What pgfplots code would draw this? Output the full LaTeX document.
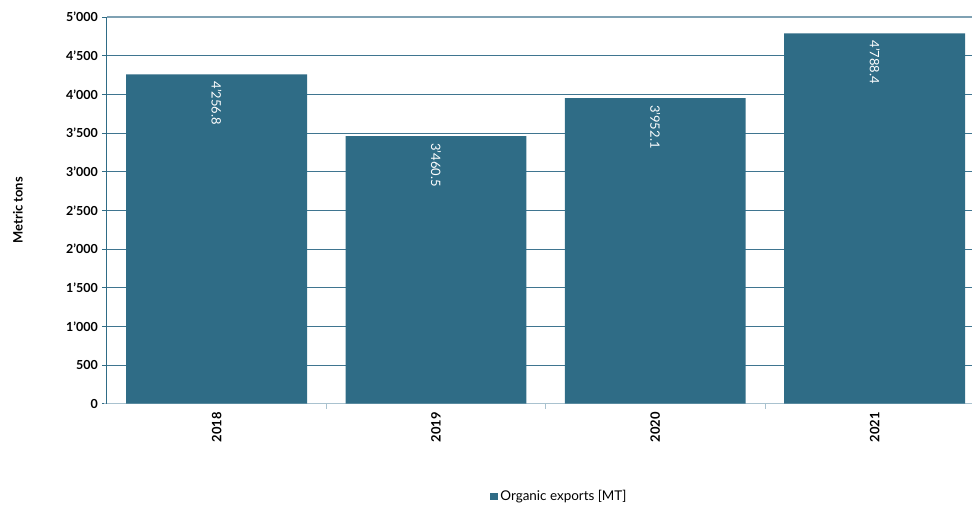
\documentclass[border=0pt]{standalone}
\usepackage{pgfplots}
\pgfplotsset{compat=1.18}
\usepackage{fontspec}
\setmainfont{Lato}
\definecolor{barc}{HTML}{2F6C86}
\definecolor{axc}{HTML}{2F6C86}
\definecolor{gridc}{HTML}{3F7590}
\definecolor{topc}{HTML}{7FA1B3}
\definecolor{botc}{HTML}{A9C2CF}
\begin{document}
\begin{tikzpicture}[x=1bp,y=1bp]
\begin{axis}[
  scale only axis,
  width=866bp, height=387bp,
  xmin=-0.5, xmax=3.445,
  ymin=0, ymax=5000,
  axis x line*=bottom,
  axis y line*=left,
  x axis line style={botc, line width=1.2bp, shorten <=-3bp},
  y axis line style={axc, line width=1bp},
  ytick={0,500,...,5000},
  yticklabels={0,500,1'000,1'500,2'000,2'500,3'000,3'500,4'000,4'500,5'000},
  yticklabel style={font=\fontsize{12.5}{14}\selectfont\bfseries, text=black, inner xsep=4bp},
  ymajorgrids,
  major grid style={gridc, line width=0.6bp},
  tick align=outside,
  major tick length=5bp,
  ytick style={axc, line width=0.8bp},
  xtick={0,1,2,3},
  xticklabels={2018,2019,2020,2021},
  xticklabel style={rotate=90, anchor=east, font=\fontsize{13}{15}\selectfont\bfseries, text=black},
  xtick style={draw=none},
  extra x ticks={0.5,1.5,2.5},
  extra x tick labels={},
  extra x tick style={xtick style={draw=botc, line width=0.8bp}, major tick length=5bp, grid=none},
  ylabel={Metric tons},
  ylabel style={font=\fontsize{13}{15}\selectfont\bfseries, at={(rel axis cs:-0.1028,0.5)}, anchor=center},
  ybar, bar width=181bp, bar shift=0pt,
  legend style={at={(rel axis cs:0.523,-0.240)}, anchor=center, draw=none, font=\fontsize{13.5}{15}\selectfont, legend columns=1,
    /tikz/every even column/.append style={column sep=0pt}},
  legend image code/.code={\fill[barc] (0cm,-0.14cm) rectangle (0.28cm,0.14cm);},
  nodes near coords,
  point meta=explicit symbolic,
  every node near coord/.append style={rotate=-90, anchor=west, inner xsep=7bp, text=white, font=\fontsize{13}{15}\selectfont},
  clip=false,
]
\addplot[fill=barc, draw=none] table[x=x, y=y, meta=lab] {
x y lab
0 4256.8 4'256.8
1 3460.5 3'460.5
2 3952.1 3'952.1
3 4788.4 4'788.4
};
\addlegendentry{Organic exports [MT]}
\draw[topc, line width=1.5bp] (rel axis cs:0,1) -- (rel axis cs:1,1);
\path[use as bounding box] (rel axis cs:-0.12356,-0.2713) rectangle (rel axis cs:1,1.0439);
\end{axis}
\end{tikzpicture}
\end{document}
